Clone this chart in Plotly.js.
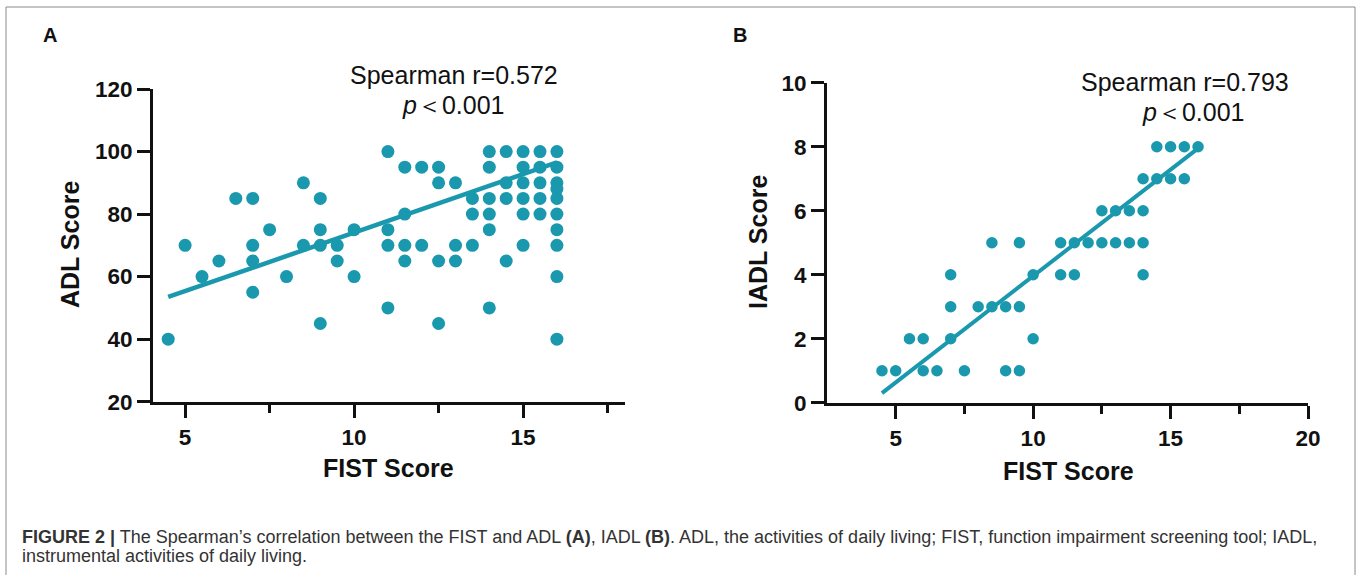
<!DOCTYPE html>
<html>
<head>
<meta charset="utf-8">
<script src="https://cdn.plot.ly/plotly-3.0.1.min.js"></script>
<style>body{margin:0;background:#fff}#chart{width:1360px;height:575px}</style>
</head>
<body>
<div id="chart"></div>
<script>
// Panel A: FIST vs ADL
const adlFist = [4.5,5,5.5,6,6.5,7,7,7,7,7.5,8,8.5,8.5,9,9,9,9,9.5,9.5,10,10,
  11,11,11,11,11.5,11.5,11.5,11.5,12,12,12.5,12.5,12.5,12.5,13,13,13,13.5,13.5,13.5,
  14,14,14,14,14,14,14.5,14.5,14.5,14.5,15,15,15,15,15,15,15.5,15.5,15.5,15.5,15.5,
  16,16,16,16,16,16,16,16,16,16];
const adlScore = [40,70,60,65,85,85,70,65,55,75,60,90,70,85,75,70,45,70,65,75,60,
  100,75,70,50,95,80,70,65,95,70,95,90,65,45,90,70,65,85,80,70,
  100,95,85,80,75,50,100,90,85,65,100,95,90,85,80,70,100,95,90,85,80,
  100,95,90,88,85,80,75,70,60,40];
const adlFitX = [4.5, 16];
const adlFitY = [53.5, 96.5];

// Panel B: FIST vs IADL
const iadlFist = [4.5,5,5.5,6,6,6.5,7,7,7,7.5,8,8.5,8.5,9,9,9.5,9.5,9.5,10,10,
  11,11,11.5,11.5,12,12.5,12.5,13,13,13.5,13.5,14,14,14,14,14.5,14.5,15,15,15.5,15.5,16];
const iadlScore = [1,1,2,2,1,1,2,3,4,1,3,3,5,3,1,3,5,1,4,2,
  5,4,5,4,5,5,6,5,6,6,5,7,6,5,4,8,7,8,7,8,7,8];
const iadlFitX = [4.5, 16];
const iadlFitY = [0.3, 7.95];

const ticksA_y = [20,40,60,80,100,120];
const ticksA_x = [5,10,15];
const ticksB_y = [0,2,4,6,8,10];
const ticksB_x = [5,10,15,20];

const teal = '#1a98ae';
const W = 1360, H = 575;
const px = v => v / W;
const py = v => 1 - v / H;

const traces = [
  {x: adlFist, y: adlScore, type: 'scatter', mode: 'markers', xaxis: 'x', yaxis: 'y',
   marker: {color: teal, size: 13}, hoverinfo: 'x+y'},
  {x: adlFitX, y: adlFitY, type: 'scatter', mode: 'lines', xaxis: 'x', yaxis: 'y',
   line: {color: teal, width: 4.5}},
  {x: iadlFist, y: iadlScore, type: 'scatter', mode: 'markers', xaxis: 'x2', yaxis: 'y2',
   marker: {color: teal, size: 11.5}},
  {x: iadlFitX, y: iadlFitY, type: 'scatter', mode: 'lines', xaxis: 'x2', yaxis: 'y2',
   line: {color: teal, width: 4}}
];

const tickFont = {family: 'Liberation Sans, Arial, sans-serif', size: 22.5, color: '#111', weight: 'bold'};
const baseAxis = {
  showgrid: false, zeroline: false, showline: true, linewidth: 3, linecolor: '#111',
  ticks: 'outside', ticklen: 13, tickwidth: 3, tickcolor: '#111', tickfont: tickFont,
  fixedrange: true
};

const layout = {
  width: W, height: H,
  margin: {l: 0, r: 0, t: 0, b: 0},
  paper_bgcolor: '#fff', plot_bgcolor: 'rgba(0,0,0,0)',
  showlegend: false,
  font: {family: 'Liberation Sans, Arial, sans-serif', color: '#111'},
  xaxis: Object.assign({}, baseAxis, {
    domain: [px(153), px(624.5)], range: [4.05, 18], tickvals: ticksA_x, ticktext: ticksA_x.map(String),
    anchor: 'y', minor: {tickvals: [7.5, 12.5, 17.5], ticks: 'outside', ticklen: 8, tickwidth: 3, tickcolor: '#111'}
  }),
  yaxis: Object.assign({}, baseAxis, {
    domain: [py(401.7), py(89)], range: [20, 120], tickvals: ticksA_y, ticktext: ticksA_y.map(String), anchor: 'x'
  }),
  xaxis2: Object.assign({}, baseAxis, {
    domain: [px(827), px(1308)], range: [2.5, 20], tickvals: ticksB_x, ticktext: ticksB_x.map(String),
    anchor: 'y2', minor: {tickvals: [7.5, 12.5, 17.5], ticks: 'outside', ticklen: 8, tickwidth: 3, tickcolor: '#111'}
  }),
  yaxis2: Object.assign({}, baseAxis, {
    domain: [py(402.7), py(82.7)], range: [0, 10], tickvals: ticksB_y, ticktext: ticksB_y.map(String), anchor: 'x2'
  }),
  shapes: [
    {type: 'rect', xref: 'paper', yref: 'paper', x0: px(6), x1: px(1355), y0: -0.05, y1: py(7),
     line: {color: '#8a8a8a', width: 1}, fillcolor: 'rgba(0,0,0,0)', layer: 'below'}
  ],
  annotations: []
};

function ann(text, x, y, opts) {
  layout.annotations.push(Object.assign({
    text: text, xref: 'paper', yref: 'paper', x: px(x), y: py(y),
    xanchor: 'center', yanchor: 'middle', showarrow: false,
    font: {family: 'Liberation Sans, Arial, sans-serif', size: 25, color: '#111'}
  }, opts || {}));
}

const boldTitle = {family: 'Liberation Sans, Arial, sans-serif', size: 25, color: '#111', weight: 'bold'};
ann('A', 50, 35, {font: {family: 'Liberation Sans, Arial, sans-serif', size: 20, color: '#111', weight: 'bold'}});
ann('B', 740, 35, {font: {family: 'Liberation Sans, Arial, sans-serif', size: 20, color: '#111', weight: 'bold'}});
ann('FIST Score', 388, 468, {font: boldTitle});
ann('ADL Score', 70, 245, {font: boldTitle, textangle: -90});
ann('FIST Score', 1068, 471, {font: boldTitle});
ann('IADL Score', 758, 242, {font: boldTitle, textangle: -90});
ann('Spearman r=0.572', 454, 75);
ann('<i>p</i>＜0.001', 453, 105);
ann('Spearman r=0.793', 1185, 82);
ann('<i>p</i>＜0.001', 1193, 112);

const capFont = {family: 'Liberation Sans, Arial, sans-serif', size: 18, color: '#333'};
ann('<b>FIGURE 2 |</b> The Spearman’s correlation between the FIST and ADL <b>(A)</b>, IADL <b>(B)</b>. ADL, the activities of daily living; FIST, function impairment screening tool; IADL,',
    20, 537, {xanchor: 'left', font: capFont});
ann('instrumental activities of daily living.', 20, 556, {xanchor: 'left', font: capFont});

Plotly.newPlot('chart', traces, layout, {displayModeBar: false, staticPlot: true});
</script>
</body>
</html>
